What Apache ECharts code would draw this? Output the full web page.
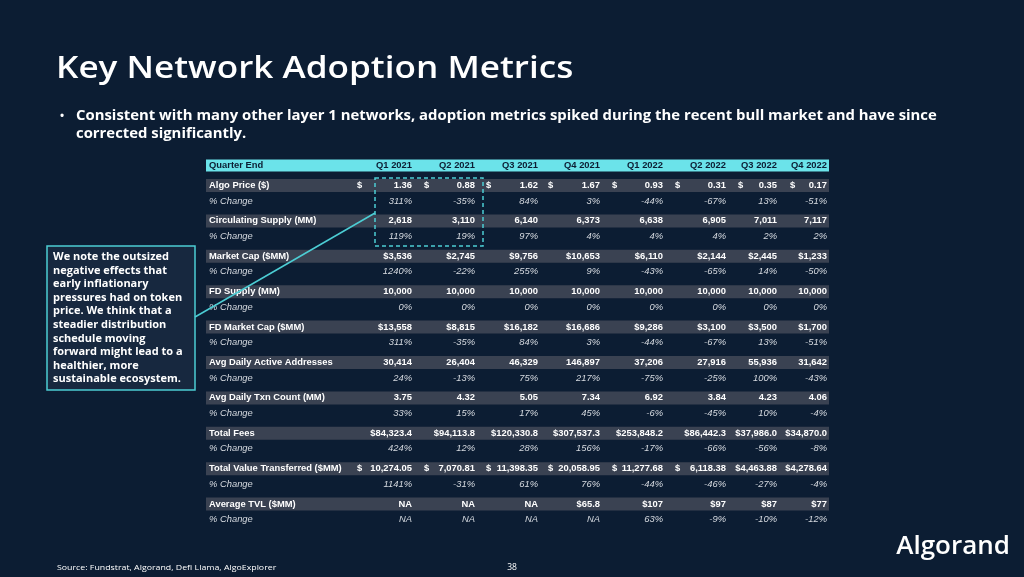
<!DOCTYPE html>
<html>
<head>
<meta charset="utf-8">
<script src="https://cdn.jsdelivr.net/npm/echarts@6/dist/echarts.min.js"></script>
<style>
  html, body { margin: 0; padding: 0; background: #0c1d33; }
  #chart { width: 1024px; height: 577px; }
</style>
</head>
<body>
<div id="chart"></div>
<script>
// ---------------- DATA ----------------
const quarters = ['Q1 2021', 'Q2 2021', 'Q3 2021', 'Q4 2021', 'Q1 2022', 'Q2 2022', 'Q3 2022', 'Q4 2022'];
const headerLabel = 'Quarter End';
const changeLabel = '% Change';

const algoPrice = [1.36, 0.88, 1.62, 1.67, 0.93, 0.31, 0.35, 0.17];
const algoPriceChg = [311, -35, 84, 3, -44, -67, 13, -51];
const circSupply = [2618, 3110, 6140, 6373, 6638, 6905, 7011, 7117];
const circSupplyChg = [119, 19, 97, 4, 4, 4, 2, 2];
const marketCap = [3536, 2745, 9756, 10653, 6110, 2144, 2445, 1233];
const marketCapChg = [1240, -22, 255, 9, -43, -65, 14, -50];
const fdSupply = [10000, 10000, 10000, 10000, 10000, 10000, 10000, 10000];
const fdSupplyChg = [0, 0, 0, 0, 0, 0, 0, 0];
const fdMarketCap = [13558, 8815, 16182, 16686, 9286, 3100, 3500, 1700];
const fdMarketCapChg = [311, -35, 84, 3, -44, -67, 13, -51];
const activeAddresses = [30414, 26404, 46329, 146897, 37206, 27916, 55936, 31642];
const activeAddressesChg = [24, -13, 75, 217, -75, -25, 100, -43];
const txnCount = [3.75, 4.32, 5.05, 7.34, 6.92, 3.84, 4.23, 4.06];
const txnCountChg = [33, 15, 17, 45, -6, -45, 10, -4];
const totalFees = [84323.4, 94113.8, 120330.8, 307537.3, 253848.2, 86442.3, 37986.0, 34870.0];
const totalFeesChg = [424, 12, 28, 156, -17, -66, -56, -8];
const valueTransferred = [10274.05, 7070.81, 11398.35, 20058.95, 11277.68, 6118.38, 4463.88, 4278.64];
const valueTransferredChg = [1141, -31, 61, 76, -44, -46, -27, -4];
const avgTVL = [null, null, null, 65.8, 107, 97, 87, 77];
const avgTVLChg = [null, null, null, null, 63, -9, -10, -12];

const metricNames = ['Algo Price ($)', 'Circulating Supply (MM)', 'Market Cap ($MM)', 'FD Supply (MM)',
  'FD Market Cap ($MM)', 'Avg Daily Active Addresses', 'Avg Daily Txn Count (MM)', 'Total Fees',
  'Total Value Transferred ($MM)', 'Average TVL ($MM)'];

const titleText = 'Key Network Adoption Metrics';
const bulletLines = ['Consistent with many other layer 1 networks, adoption metrics spiked during the recent bull market and have since',
  'corrected significantly.'];
const calloutLines = ['We note the outsized', 'negative effects that', 'early inflationary', 'pressures had on token',
  'price. We think that a', 'steadier distribution', 'schedule moving', 'forward might lead to a',
  'healthier, more', 'sustainable ecosystem.'];
const sourceText = 'Source: Fundstrat, Algorand, Defi Llama, AlgoExplorer';
const pageNumber = '38';
const logoText = 'Algorand';

// ---------------- FORMATTING ----------------
function fmtNum(v, d) {
  return v.toLocaleString('en-US', { minimumFractionDigits: d, maximumFractionDigits: d });
}
const formats = {
  acct2: (v) => ({ dollar: true, text: fmtNum(v, 2) }),
  int: (v) => ({ dollar: false, text: fmtNum(v, 0) }),
  usdInt: (v) => ({ dollar: false, text: '$' + fmtNum(v, 0) }),
  dec2: (v) => ({ dollar: false, text: fmtNum(v, 2) }),
  usd1: (v) => ({ dollar: false, text: '$' + fmtNum(v, 1) }),
  acctMixed: (v, i) => (i < 6 ? { dollar: true, text: fmtNum(v, 2) } : { dollar: false, text: '$' + fmtNum(v, 2) }),
  usdAuto: (v) => (v == null ? { dollar: false, text: 'NA' } :
    { dollar: false, text: '$' + (Number.isInteger(v) ? fmtNum(v, 0) : fmtNum(v, 1)) }),
  pct: (v) => ({ dollar: false, text: v == null ? 'NA' : v + '%' })
};

const metricRows = [
  [algoPrice, algoPriceChg, 'acct2'],
  [circSupply, circSupplyChg, 'int'],
  [marketCap, marketCapChg, 'usdInt'],
  [fdSupply, fdSupplyChg, 'int'],
  [fdMarketCap, fdMarketCapChg, 'usdInt'],
  [activeAddresses, activeAddressesChg, 'int'],
  [txnCount, txnCountChg, 'dec2'],
  [totalFees, totalFeesChg, 'usd1'],
  [valueTransferred, valueTransferredChg, 'acctMixed'],
  [avgTVL, avgTVLChg, 'usdAuto']
];

const tableRows = [{ kind: 'header', label: headerLabel, cells: quarters.map(q => ({ dollar: false, text: q })) }];
metricRows.forEach((m, g) => {
  tableRows.push({ kind: 'metric', group: g, label: metricNames[g], cells: m[0].map((v, i) => formats[m[2]](v, i)) });
  tableRows.push({ kind: 'change', group: g, label: changeLabel, cells: m[1].map((v) => formats.pct(v)) });
});

// ---------------- LAYOUT (page units) ----------------
const COL_RIGHT = [412, 475, 538, 600, 663, 726, 777, 827];
const COL_LEFT = [357, 424, 486, 548, 612, 675, 738, 790];
const TABLE_L = 206, TABLE_R = 829, LABEL_X = 209;
function rowY(r) {
  if (r.kind === 'header') return 165.5;
  return 185.5 + 35.4 * r.group + (r.kind === 'change' ? 15.5 : 0);
}

const TABLE_FONT = '"Liberation Sans", Arial, sans-serif';
const SLIDE_FONT = '"Open Sans", "Noto Sans", sans-serif';
const FS = 9.4;

function renderRow(params, api) {
  const r = tableRows[params.dataIndex];
  const y = rowY(r);
  const children = [];
  const p0 = api.coord([TABLE_L, y]);
  const p1 = api.coord([TABLE_R, y]);
  const isHeader = r.kind === 'header';
  const isChange = r.kind === 'change';
  const h = isHeader ? 12 : 13;
  if (!isChange) {
    children.push({
      type: 'rect',
      shape: { x: p0[0], y: p0[1] - h / 2, width: p1[0] - p0[0], height: h },
      style: { fill: isHeader ? '#6be3ea' : '#3a4252' }
    });
  }
  const color = isHeader ? '#0c1d33' : (isChange ? '#d6dae0' : '#ffffff');
  const weight = isChange ? 'normal' : 'bold';
  const fstyle = isChange ? 'italic' : 'normal';
  const lp = api.coord([LABEL_X, y]);
  children.push({
    type: 'text',
    style: { text: r.label, x: lp[0], y: lp[1], fill: color, fontFamily: TABLE_FONT, fontSize: FS,
      fontWeight: weight, fontStyle: fstyle, align: 'left', verticalAlign: 'middle' }
  });
  r.cells.forEach((c, i) => {
    const cp = api.coord([COL_RIGHT[i], y]);
    children.push({
      type: 'text',
      style: { text: c.text, x: cp[0], y: cp[1], fill: color, fontFamily: TABLE_FONT, fontSize: FS,
        fontWeight: weight, fontStyle: fstyle, align: 'right', verticalAlign: 'middle' }
    });
    if (c.dollar) {
      const dp = api.coord([COL_LEFT[i], y]);
      children.push({
        type: 'text',
        style: { text: '$', x: dp[0], y: dp[1], fill: color, fontFamily: TABLE_FONT, fontSize: FS,
          fontWeight: weight, align: 'left', verticalAlign: 'middle' }
      });
    }
  });
  return { type: 'group', children: children };
}

const chart = echarts.init(document.getElementById('chart'), null, { renderer: 'canvas' });
const option = {
  backgroundColor: '#0c1d33',
  animation: false,
  grid: { left: 0, right: 0, top: 0, bottom: 0 },
  xAxis: { type: 'value', min: 0, max: 1024, show: false },
  yAxis: { type: 'value', min: 0, max: 577, inverse: true, show: false },
  series: [{
    type: 'custom',
    renderItem: renderRow,
    data: tableRows.map((r, i) => [i]),
    encode: { x: -1, y: -1 },
    silent: true,
    z: 1
  }],
  graphic: [
    { type: 'text', x: 56, y: 69, scaleX: 1.17, z: 100, style: { text: titleText, fill: '#ffffff', font: '600 30px ' + SLIDE_FONT, verticalAlign: 'middle' } },
    { type: 'text', x: 60, y: 116, z: 100, style: { text: '•', fill: '#ffffff', font: 'bold 11px ' + SLIDE_FONT, verticalAlign: 'middle' } },
    { type: 'text', x: 76, y: 116, scaleX: 1.062, z: 100, style: { text: bulletLines[0], fill: '#ffffff', font: 'bold 14px ' + SLIDE_FONT, verticalAlign: 'middle' } },
    { type: 'text', x: 76, y: 134, scaleX: 1.062, z: 100, style: { text: bulletLines[1], fill: '#ffffff', font: 'bold 14px ' + SLIDE_FONT, verticalAlign: 'middle' } },
    // callout box
    { type: 'rect', z: 100, shape: { x: 47, y: 246, width: 148, height: 144 }, style: { fill: '#17283f', stroke: '#4ccdd4', lineWidth: 1.5 } },
    { type: 'text', x: 53, y: 250, z: 101, style: { text: calloutLines.join('\n'), fill: '#ffffff', font: 'bold 11px ' + SLIDE_FONT, lineHeight: 13.6 } },
    // connector and highlight box
    { type: 'line', z: 100, shape: { x1: 195, y1: 317, x2: 375, y2: 213 }, style: { stroke: '#4ccdd4', lineWidth: 1.5 } },
    { type: 'rect', z: 100, shape: { x: 375, y: 178, width: 108, height: 68 }, style: { fill: 'none', stroke: '#4ccdd4', lineWidth: 1.5, lineDash: [4, 3] } },
    // footer
    { type: 'text', x: 57, y: 568, scaleX: 1.1, z: 100, style: { text: sourceText, fill: '#ffffff', font: '8px ' + SLIDE_FONT, verticalAlign: 'middle' } },
    { type: 'text', x: 512, y: 568, z: 100, style: { text: pageNumber, fill: '#ffffff', font: '8.5px ' + SLIDE_FONT, align: 'center', verticalAlign: 'middle' } },
    { type: 'text', x: 1010, y: 547, z: 100, style: { text: logoText, fill: '#ffffff', font: '600 26px ' + SLIDE_FONT, align: 'right', verticalAlign: 'middle' } }
  ]
};
chart.setOption(option);
</script>
</body>
</html>
